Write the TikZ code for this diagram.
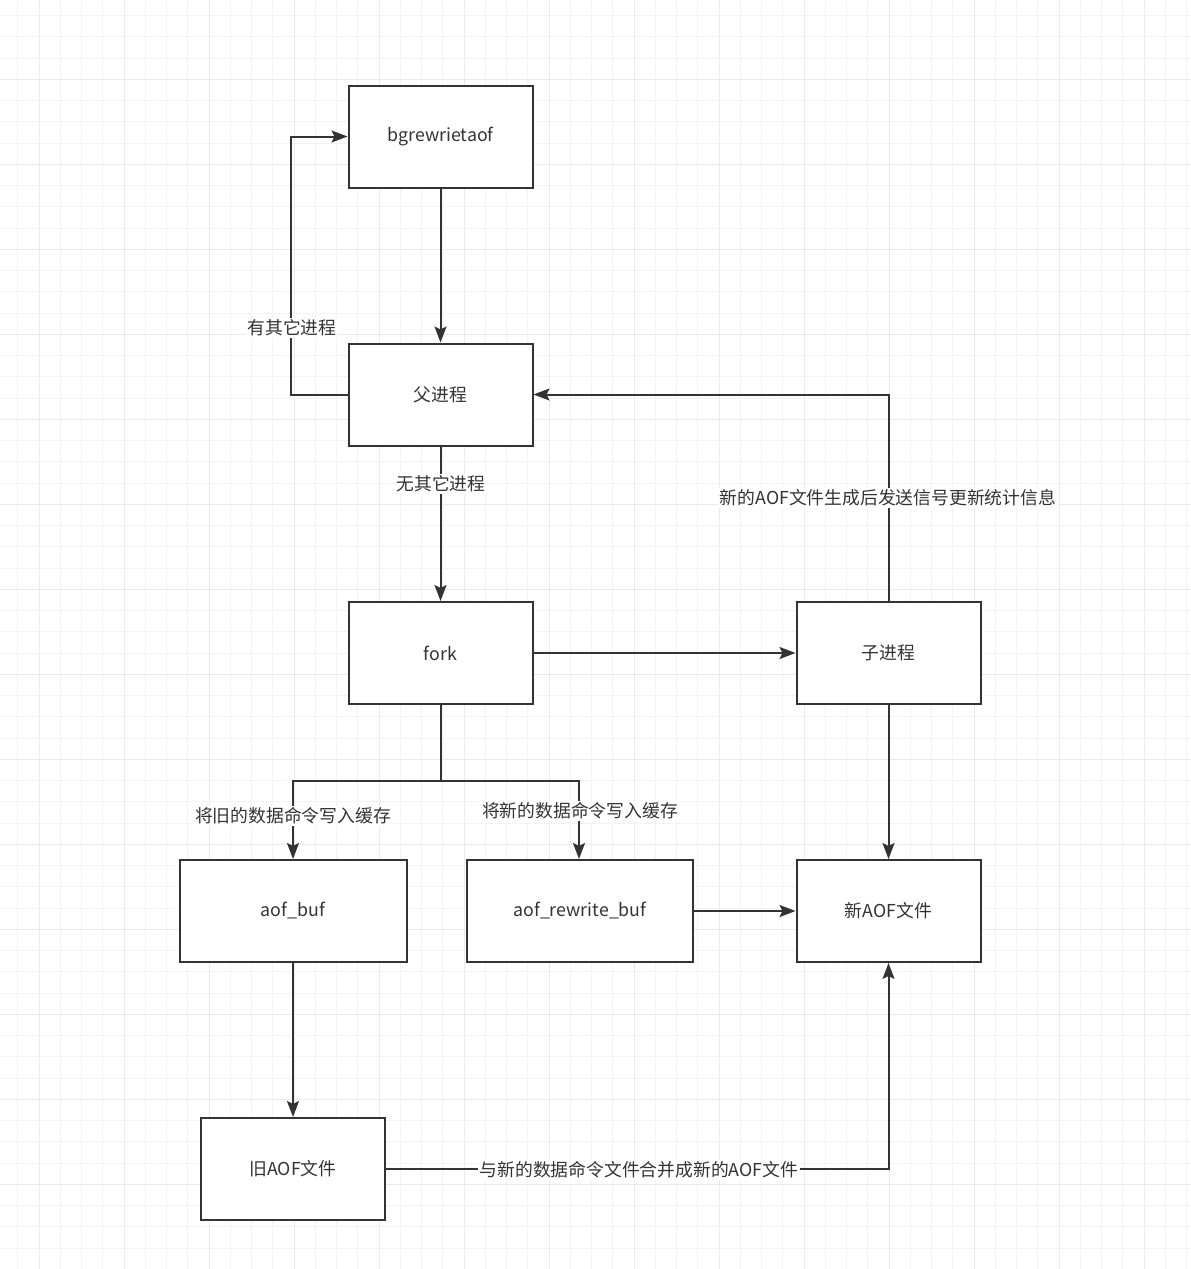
\documentclass[tikz,border=0pt]{standalone}
\usepackage{fontspec}
\setmainfont{Noto Sans CJK SC}
\usetikzlibrary{arrows.meta}
\definecolor{ink}{HTML}{333333}
\definecolor{gridminor}{HTML}{F3F3F3}
\definecolor{gridmajor}{HTML}{EAEAEA}
\tikzset{
  box/.style={draw=ink, line width=2pt, fill=white, minimum width=184pt, minimum height=102pt, inner sep=0pt, text=ink, font=\fontsize{17.8}{21}\selectfont},
  arr/.style={draw=ink, line width=2pt, -{Stealth[length=16pt,width=12pt,inset=3pt]}},
  lbl/.style={fill=white, inner sep=1.5pt, text=ink, font=\fontsize{17.8}{21}\selectfont},
}
\begin{document}
\begin{tikzpicture}[x=1pt,y=-1pt]
\useasboundingbox (0,0) rectangle (1191,1269);
\fill[white] (0,0) rectangle (1191,1269);
% grid
\foreach \k in {-1,...,54}{
  \pgfmathsetmacro{\xx}{39+21.25*\k}
  \pgfmathtruncatemacro{\m}{mod(\k+4,4)}
  \ifnum\m=0
    \draw[gridmajor, line width=1pt] (\xx,0) -- (\xx,1269);
  \else
    \draw[gridminor, line width=1pt] (\xx,0) -- (\xx,1269);
  \fi
}
\foreach \k in {-3,...,56}{
  \pgfmathsetmacro{\yy}{79.3+21.25*\k}
  \pgfmathtruncatemacro{\m}{mod(\k+4,4)}
  \ifnum\m=0
    \draw[gridmajor, line width=1pt] (0,\yy) -- (1191,\yy);
  \else
    \draw[gridminor, line width=1pt] (0,\yy) -- (1191,\yy);
  \fi
}
% nodes
\node[box] (bg)   at (440.5,136.5) {bgrewrietaof};
\node[box] (par)  at (440.5,394.5) {父进程};
\node[box] (fork) at (440.5,653)   {fork};
\node[box] (chd)  at (888.5,653)   {子进程};
\node[box, minimum width=227pt] (abuf) at (293,911) {aof\_buf};
\node[box, minimum width=226pt] (rbuf) at (580,911) {aof\_rewrite\_buf};
\node[box] (newf) at (888.5,911)   {新AOF文件};
\node[box] (oldf) at (293,1169)    {旧AOF文件};
% connectors
\draw[arr] (bg) -- (par);
\draw[arr] (par.west) -- ++(-57,0) |- (bg.west);
\draw[arr] (par) -- (fork);
\draw[arr] (fork) -- (chd);
\draw[arr] (chd.north) |- (par.east);
\coordinate (split) at (440.5,781);
\draw[arr] (fork.south) -- (split) -| (abuf.north);
\draw[arr] (fork.south) -- (split) -| ([xshift=-1pt]rbuf.north);
\draw[arr] (chd) -- (newf);
\draw[arr] (rbuf) -- (newf);
\draw[arr] (abuf) -- (oldf);
\draw[arr] (oldf.east) -| (newf.south);
% labels
\node[lbl] (l1) at (292,328) {有其它进程};
\node[lbl] (l2) at (441,484) {无其它进程};
\node[lbl] (l3) at (888,498) {新的AOF文件生成后发送信号更新统计信息};
\node[lbl] (l4) at (293,816) {将旧的数据命令写入缓存};
\node[lbl] (l5) at (580,811) {将新的数据命令写入缓存};
\node[lbl] (l6) at (639,1170) {与新的数据命令文件合并成新的AOF文件};
\end{tikzpicture}
\end{document}
